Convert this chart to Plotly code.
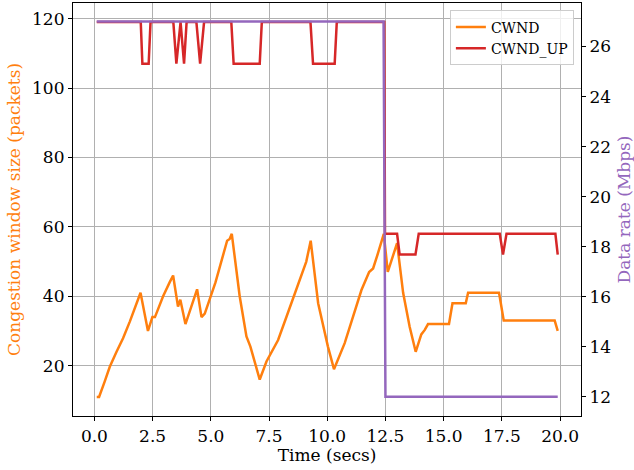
import plotly.graph_objects as go

# Congestion window (packets) over time
t_cwnd = [0.1, 0.2, 0.44, 0.66, 0.95, 1.23, 1.52, 1.80, 1.98, 2.30, 2.49, 2.60,
          2.95, 3.23, 3.38, 3.59, 3.69, 3.91, 4.41, 4.60, 4.74, 5.20, 5.70, 5.81,
          5.90, 6.24, 6.53, 6.70, 7.10, 7.39, 7.89, 8.25, 8.82, 9.10, 9.29, 9.61,
          10.03, 10.29, 10.75, 11.47, 11.80, 11.97, 12.18, 12.43, 12.60, 13.00,
          13.26, 13.54, 13.80, 14.04, 14.19, 14.33, 15.23, 15.38, 15.95, 16.05,
          17.38, 17.58, 19.77, 19.90]
cwnd = [11, 11, 15.4, 19.7, 24, 27.9, 32.7, 37.5, 41, 30, 34, 34,
        40, 44, 46, 37, 39, 32, 42, 34, 35, 44, 56, 56.5,
        58, 40, 28.4, 25.5, 16, 21.2, 27.4, 34.1, 45.2, 50, 56, 38,
        25.5, 19, 26.5, 41.8, 47, 48, 52.4, 58, 47, 55.3,
        41, 31.2, 24, 29, 30.3, 32, 32, 38, 38, 41,
        41, 33, 33, 30]

# Upper bound of the congestion window (packets)
t_up = [0.1, 1.99, 2.06, 2.33, 2.41, 3.39, 3.52, 3.70, 3.85, 3.96, 4.38, 4.54,
        4.71, 5.88, 5.98, 7.10, 7.19, 9.28, 9.39, 10.32, 10.41, 12.45, 12.48,
        13.00, 13.11, 13.79, 13.93, 17.41, 17.55, 17.70, 19.80, 19.90]
cwnd_up = [119, 119, 107, 107, 119, 119, 107, 119, 107, 119, 119, 107,
           119, 119, 107, 107, 119, 119, 107, 107, 119, 119, 58,
           58, 52, 52, 58, 58, 52, 58, 58, 52]

# Link data rate (Mbps)
t_rate = [0.1, 12.42, 12.50, 19.90]
rate = [27, 27, 12, 12]

ORANGE = "#ff7f0e"
RED = "#d62728"
PURPLE = "#9467bd"
FONT = "DejaVu Serif, Liberation Serif, serif"
FS = 17

fig = go.Figure()
fig.add_trace(go.Scatter(x=t_cwnd, y=cwnd, mode="lines", name="CWND",
                         line=dict(color=ORANGE, width=2.5)))
fig.add_trace(go.Scatter(x=t_up, y=cwnd_up, mode="lines", name="CWND_UP",
                         line=dict(color=RED, width=2.5)))
fig.add_trace(go.Scatter(x=t_rate, y=rate, mode="lines", name="Rate",
                         line=dict(color=PURPLE, width=2.5), yaxis="y2",
                         showlegend=False))

axis_common = dict(showline=True, linecolor="black", linewidth=1.2,
                   ticks="outside", ticklen=4, tickwidth=1, tickcolor="black",
                   tickfont=dict(family=FONT, size=FS, color="black"),
                   zeroline=False)

fig.update_layout(
    width=634, height=470,
    margin=dict(l=73, r=53, t=3, b=54),
    paper_bgcolor="white", plot_bgcolor="white",
    font=dict(family=FONT, size=FS, color="black"),
    xaxis=dict(range=[-0.92, 20.9], tick0=0, dtick=2.5, tickformat=".1f",
               mirror=True, showgrid=True, gridcolor="#b0b0b0", gridwidth=1,
               title=dict(text="Time (secs)", font=dict(family=FONT, size=FS),
                          standoff=4),
               **axis_common),
    yaxis=dict(range=[5.5, 124.5], tick0=0, dtick=20,
               showgrid=True, gridcolor="#b0b0b0", gridwidth=1,
               title=dict(text="Congestion window size (packets)",
                          font=dict(family=FONT, size=FS, color=ORANGE),
                          standoff=7),
               **axis_common),
    yaxis2=dict(range=[11.23, 27.74], tick0=0, dtick=2, overlaying="y",
                side="right", showgrid=False,
                title=dict(text="Data rate (Mbps)",
                           font=dict(family=FONT, size=FS, color=PURPLE),
                           standoff=7),
                **axis_common),
    legend=dict(x=0.986, y=0.982, xanchor="right", yanchor="top",
                bgcolor="rgba(255,255,255,0.8)", bordercolor="#cccccc",
                borderwidth=1, font=dict(family=FONT, size=14, color="black"),
                tracegroupgap=0),
    showlegend=True,
)

fig.write_html("out.html")
